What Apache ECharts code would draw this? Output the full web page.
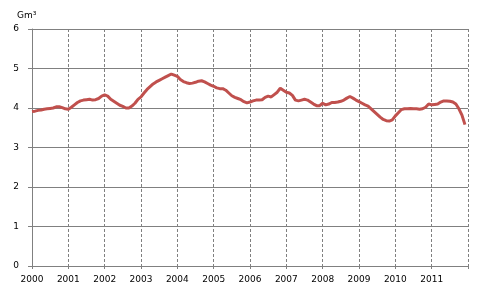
<!DOCTYPE html>
<html>
<head>
<meta charset="utf-8">
<script src="https://cdn.jsdelivr.net/npm/echarts@6/dist/echarts.min.js"></script>
<style>html,body{margin:0;padding:0;background:#fff}#c{width:493px;height:304px}</style>
</head>
<body>
<div id="c"></div>
<script>
var years = [2000,2001,2002,2003,2004,2005,2006,2007,2008,2009,2010,2011];
var yTicks = [0,1,2,3,4,5,6];
var unitLabel = 'Gm³';
// monthly values, Jan..Dec per year
var v2000 = [3.91,3.92,3.94,3.95,3.97,3.98,3.99,4.00,4.03,4.03,4.01,3.98];
var v2001 = [3.97,4.02,4.08,4.14,4.18,4.20,4.21,4.22,4.20,4.21,4.24,4.30];
var v2002 = [4.33,4.30,4.22,4.17,4.12,4.07,4.04,4.00,4.00,4.05,4.12,4.22];
var v2003 = [4.28,4.38,4.47,4.54,4.61,4.66,4.70,4.74,4.78,4.82,4.86,4.83];
var v2004 = [4.80,4.72,4.67,4.64,4.62,4.63,4.65,4.68,4.69,4.66,4.62,4.58];
var v2005 = [4.55,4.51,4.49,4.49,4.45,4.38,4.31,4.27,4.24,4.21,4.16,4.13];
var v2006 = [4.15,4.18,4.20,4.20,4.21,4.27,4.30,4.28,4.34,4.40,4.50,4.45];
var v2007 = [4.40,4.38,4.32,4.20,4.18,4.20,4.22,4.20,4.15,4.10,4.06,4.06];
var v2008 = [4.12,4.08,4.10,4.14,4.14,4.15,4.17,4.20,4.25,4.29,4.25,4.20];
var v2009 = [4.16,4.12,4.08,4.05,3.98,3.91,3.84,3.77,3.71,3.68,3.67,3.70];
var v2010 = [3.80,3.88,3.96,3.98,3.98,3.99,3.98,3.98,3.97,3.98,4.02,4.10];
var v2011 = [4.08,4.09,4.10,4.15,4.18,4.18,4.17,4.15,4.10,3.98,3.82,3.58];

var allYears = [v2000,v2001,v2002,v2003,v2004,v2005,v2006,v2007,v2008,v2009,v2010,v2011];
var seriesData = [];
allYears.forEach(function(arr, yi){
  arr.forEach(function(val, m){
    seriesData.push([years[yi] + m/12, val]);
  });
});

var chart = echarts.init(document.getElementById('c'), null, {renderer:'canvas'});
var font = 'DejaVu Sans';
chart.setOption({
  animation: false,
  backgroundColor: '#ffffff',
  title: {
    text: unitLabel, left: 12, top: 6,
    textStyle: {fontFamily: font, fontSize: 9, fontWeight: 'normal', color: '#000'}
  },
  grid: {left: 32, right: 25, top: 29, bottom: 38, containLabel: false},
  xAxis: {
    type: 'value', min: 2000, max: 2012, interval: 1,
    axisLine: {show: true, lineStyle: {color: '#808080', width: 1}},
    axisTick: {show: true, length: 3, lineStyle: {color: '#808080'}},
    axisLabel: {
      fontFamily: font, fontSize: 9, color: '#000', margin: 9,
      formatter: function(v){ return years.indexOf(v) >= 0 ? String(v) : ''; }
    },
    splitLine: {show: true, lineStyle: {color: '#808080', type: [3,2], width: 1}}
  },
  yAxis: {
    type: 'value', min: yTicks[0], max: yTicks[yTicks.length-1], interval: 1,
    axisLine: {show: true, lineStyle: {color: '#808080', width: 1}},
    axisTick: {show: true, length: 4, lineStyle: {color: '#808080'}},
    axisLabel: {fontFamily: font, fontSize: 9, color: '#000', margin: 13},
    splitLine: {show: true, lineStyle: {color: '#808080', width: 1}}
  },
  series: [{
    type: 'line',
    data: seriesData,
    showSymbol: false,
    smooth: false,
    lineStyle: {color: '#c0504d', width: 3},
    itemStyle: {color: '#c0504d'}
  }]
});
</script>
</body>
</html>
